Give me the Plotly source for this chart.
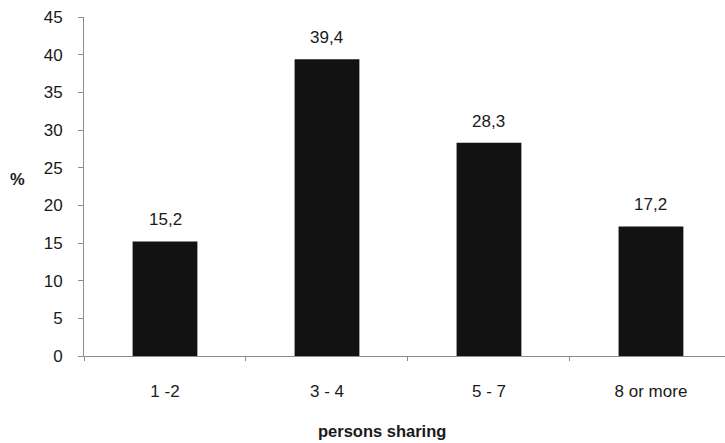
import plotly.graph_objects as go

# Household sharing distribution
categories = ["1 -2", "3 - 4", "5 - 7", "8 or more"]
percent = [15.2, 39.4, 28.3, 17.2]
y_ticks = [0, 5, 10, 15, 20, 25, 30, 35, 40, 45]

labels = [f"{v:.1f}".replace(".", ",") for v in percent]

font_family = "Liberation Sans, Arial, sans-serif"
text_color = "#1a1a1a"
axis_color = "#8c8c8c"

fig = go.Figure(
    go.Bar(
        x=categories,
        y=percent,
        marker=dict(color="#121212", line=dict(width=0)),
        width=0.4,
        cliponaxis=False,
    )
)

# value labels floating above each bar
value_notes = [
    dict(
        x=c, y=v, text=t,
        xref="x", yref="y",
        xanchor="center", yanchor="bottom",
        yshift=10,
        showarrow=False,
        font=dict(family=font_family, size=17, color=text_color),
    )
    for c, v, t in zip(categories, percent, labels)
]

fig.update_layout(
    width=725,
    height=443,
    margin=dict(l=84, r=0, t=17, b=87),
    paper_bgcolor="white",
    plot_bgcolor="white",
    showlegend=False,
    font=dict(family=font_family, size=17, color=text_color),
    xaxis=dict(
        range=[-0.5, 3.457],
        showline=True,
        linecolor=axis_color,
        linewidth=1,
        ticks="outside",
        tickson="boundaries",
        ticklen=4,
        tickcolor=axis_color,
        ticklabelstandoff=20,
        showgrid=False,
        zeroline=False,
    ),
    yaxis=dict(
        range=[0, 45],
        tickvals=y_ticks,
        showline=True,
        linecolor=axis_color,
        linewidth=1,
        ticks="outside",
        ticklen=5,
        tickcolor=axis_color,
        ticklabelstandoff=12,
        showgrid=False,
        zeroline=False,
    ),
    annotations=value_notes + [
        dict(
            text="<b>persons sharing</b>",
            xref="paper", yref="paper",
            x=(382 - 84) / (725 - 84), y=-(431 - 356) / (356 - 17),
            xanchor="center", yanchor="middle",
            showarrow=False,
            font=dict(family=font_family, size=16.5, color=text_color),
        ),
        dict(
            text="<b>%</b>",
            xref="paper", yref="paper",
            x=-(84 - 17) / (725 - 84), y=(356 - 179) / (356 - 17),
            xanchor="center", yanchor="middle",
            showarrow=False,
            font=dict(family=font_family, size=16.5, color=text_color),
        ),
    ],
)

fig.write_html("out.html")
